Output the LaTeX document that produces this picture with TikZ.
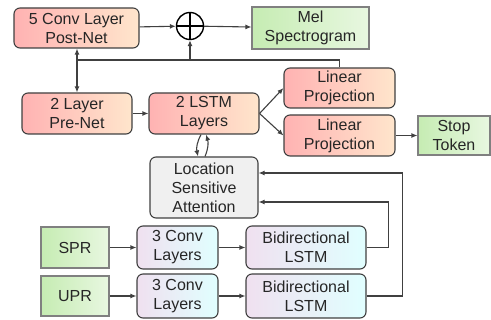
\documentclass[tikz,border=0pt]{standalone}
\usepackage{fontspec}
\setmainfont{Liberation Sans}
\usetikzlibrary{arrows.meta, positioning, shapes}
\definecolor{edgegray}{HTML}{404040}
\tikzset{
        >={Latex[length=6pt,width=5pt]}, % small filled heads
        every node/.style={align=center, font=\fontsize{16}{19}\selectfont, text=black!85},
        block/.style={draw=edgegray, line width=1.1pt, rounded corners=6pt, inner sep=0pt},
        redblock/.style={block, left color=red!30, right color=orange!20},
        blueblock/.style={block, left color=violet!12, right color=cyan!12},
        greenbox/.style={draw=gray, line width=1.1pt, inner sep=0pt, left color=green!50!olive!30, right color=green!50!olive!12},
        link/.style={draw=edgegray, line width=1.1pt},
    }

\begin{document}
\begin{tikzpicture}[x=1pt, y=-1pt]
    \useasboundingbox (0,0) rectangle (491,320);
    % decoder side
    \node[redblock, minimum width=125pt, minimum height=40pt] (post) at (76.5,28) {5 Conv Layer\\Post-Net};
    \node[draw=black, line width=1.4pt, circle, minimum size=27pt, inner sep=0pt] (plus) at (190,26) {};
    \draw[line width=1.4pt] (plus.north) -- (plus.south) (plus.west) -- (plus.east);
    \node[greenbox, minimum width=117pt, minimum height=42pt] (mel) at (310.5,28) {Mel\\Spectrogram};
    \node[redblock, minimum width=110pt, minimum height=41pt] (pre) at (77,113.5) {2 Layer\\Pre-Net};
    \node[redblock, minimum width=110pt, minimum height=41pt] (lstm) at (204,113.5) {2 LSTM\\Layers};
    \node[redblock, minimum width=111pt, minimum height=40pt] (lin1) at (339.5,88) {Linear\\Projection};
    \node[redblock, minimum width=111pt, minimum height=41pt] (lin2) at (339.5,135.5) {Linear\\Projection};
    \node[greenbox, minimum width=72pt, minimum height=39pt] (stop) at (454,135.5) {Stop\\Token};
    \node[block, fill=gray!12, minimum width=108pt, minimum height=61pt] (att) at (204,187.5) {Location\\Sensitive\\Attention};
    % encoder side
    \node[greenbox, minimum width=68pt, minimum height=41pt] (spr) at (75,247.5) {SPR};
    \node[blueblock, minimum width=81pt, minimum height=43pt] (conv1) at (177.5,247.5) {3 Conv\\Layers};
    \node[blueblock, minimum width=120pt, minimum height=43pt] (bi1) at (306,247.5) {Bidirectional\\LSTM};
    \node[greenbox, minimum width=68pt, minimum height=40pt] (upr) at (75,296) {UPR};
    \node[blueblock, minimum width=81pt, minimum height=44pt] (conv2) at (177.5,296) {3 Conv\\Layers};
    \node[blueblock, minimum width=120pt, minimum height=44pt] (bi2) at (306,296) {Bidirectional\\LSTM};
    \coordinate (bus) at (77,60);

    \draw[link, ->] (post) -- (plus);
    \draw[link, ->] (plus) -- (mel);
    \draw[link] (lin1.north) |- (bus);
    \draw[link, ->] (plus.south |- bus) -- (plus);
    \draw[link, <->] (post.south -| bus) -- (pre.north -| bus);
    \draw[link, ->] (pre) -- (lstm);
    \draw[link, ->] (lstm.east) -- (lin1.west);
    \draw[link, ->] (lstm.east) -- (lin2.west);
    \draw[link, ->] (lin2) -- (stop);
    \draw[link, ->] ([xshift=-3pt]lstm.south) to[bend right=20] ([xshift=-6pt]att.north);
    \draw[link, ->] ([xshift=1pt]att.north) to[bend right=20] ([xshift=2pt]lstm.south);
    \draw[link, ->] (spr) -- (conv1);
    \draw[link, ->] (conv1) -- (bi1);
    \draw[link, ->] (upr) -- (conv2);
    \draw[link, ->] (conv2) -- (bi2);
    \draw[link, ->] (bi1.east) -- ++(22,0) |- ([yshift=-14.5pt]att.east);
    \draw[link, ->] (bi2.east) -- ++(36,0) |- ([yshift=14.5pt]att.east);
\end{tikzpicture}
\end{document}
